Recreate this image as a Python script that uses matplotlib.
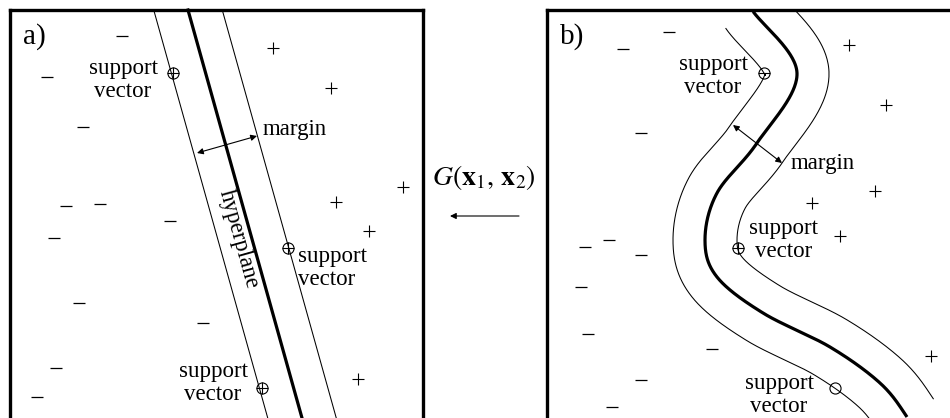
import numpy as np
import matplotlib
matplotlib.use("Agg")
import matplotlib.pyplot as plt

plt.rcParams['font.family'] = ['Liberation Serif', 'DejaVu Serif']
plt.rcParams['mathtext.fontset'] = 'stix'

# ---------------- data (pixel space of the drawing) ----------------
# panel a: straight hyperplane, given as (x at top, x at bottom)
a_hyper_top = [188, 302]
a_margin_px = 33
a_minus_x = [122, 47, 83, 66, 100, 170, 54, 79, 203, 56, 37]
a_minus_y = [36, 77, 127, 206, 204, 221, 238, 303, 323, 368, 397]
a_plus_x = [273, 331, 403, 336, 369, 358]
a_plus_y = [48, 88, 187, 202, 231, 379]
a_sv_x = [173, 288, 262]
a_sv_y = [73, 248, 388]
a_sv_sign = ['+', '+', '+']

# panel b: curved hyperplane control points
b_curve_y = [-20, 10, 73, 143, 193, 240, 277, 313, 347, 383, 417, 450]
b_curve_x = [735, 752, 797, 757, 717, 705, 717, 763, 830, 880, 907, 925]
b_margin_px = 32
b_minus_x = [669, 623, 641, 609, 585, 641, 581, 588, 712, 641, 612]
b_minus_y = [32, 49, 133, 240, 247, 255, 287, 334, 349, 380, 407]
b_plus_x = [849, 886, 875, 812, 840, 931]
b_plus_y = [45, 105, 191, 203, 236, 356]
b_sv_sign = ['-', '+', '']

W, H = 950, 418
fig = plt.figure(figsize=(9.5, 4.18), dpi=100)
ax = fig.add_axes([0, 0, 1, 1])
ax.set_xlim(0, W)
ax.set_ylim(H, 0)
ax.axis('off')

FS = 16.5
LS = 1.1
lw_thick = 2.3
lw_thin = 0.75
ms = 7

def catmull(xs, ys, n=40):
    xs = np.asarray(xs, float); ys = np.asarray(ys, float)
    out_x, out_y = [], []
    for i in range(1, len(xs) - 2):
        p0, p1, p2, p3 = [np.array([xs[j], ys[j]]) for j in (i - 1, i, i + 1, i + 2)]
        t = np.linspace(0, 1, n, endpoint=False)[:, None]
        pts = 0.5 * ((2 * p1) + (-p0 + p2) * t + (2 * p0 - 5 * p1 + 4 * p2 - p3) * t ** 2
                     + (-p0 + 3 * p1 - 3 * p2 + p3) * t ** 3)
        out_x.append(pts[:, 0]); out_y.append(pts[:, 1])
    out_x.append([xs[-2]]); out_y.append([ys[-2]])
    return np.concatenate(out_x), np.concatenate(out_y)

def offset(x, y, d):
    # positive d -> shift to the right (larger x) of a downward running curve
    dx = np.gradient(x); dy = np.gradient(y)
    L = np.hypot(dx, dy)
    nx, ny = dy / L, -dx / L
    return x + d * nx, y + d * ny

def clip_panel(x, y, x0, x1, y0=11, y1=H + 5):
    m = (y >= y0) & (y <= y1) & (x >= x0) & (x <= x1)
    return np.where(m, x, np.nan), np.where(m, y, np.nan)

def draw_points(mx, my, px, py):
    ax.plot(mx, my, ls='none', marker='_', ms=ms + 1, mew=0.9, color='black')
    ax.plot(px, py, ls='none', marker='+', ms=ms + 1, mew=0.8, color='black')

def draw_sv(xs, ys, signs):
    ax.plot(xs, ys, ls='none', marker='o', ms=8, mfc='none', mec='black', mew=0.8, zorder=5)
    for x, y, s in zip(xs, ys, signs):
        if s:
            ax.plot([x], [y], ls='none', marker='+' if s == '+' else '_', ms=8, mew=0.8,
                    color='black', zorder=6)

def frame(x0, x1, right=True):
    ax.plot([x0, x0], [H + 5, 10], color='black', lw=2.4, solid_capstyle='projecting')
    ax.plot([x0, x1], [10, 10], color='black', lw=2.4, solid_capstyle='projecting')
    if right:
        ax.plot([x1, x1], [10, H + 5], color='black', lw=2.4, solid_capstyle='projecting')

# ---------------- panel a ----------------
frame(10, 423)
yy = np.array([10.0, H + 5])
slope = (a_hyper_top[1] - a_hyper_top[0]) / (418 - 10)
xc = a_hyper_top[0] + slope * (yy - 10)
ang = np.arctan(slope)
dxh = a_margin_px / np.cos(ang)
ax.plot(xc, yy, color='black', lw=lw_thick)
ax.plot(xc - dxh, yy, color='black', lw=lw_thin)
ax.plot(xc + dxh, yy, color='black', lw=lw_thin)
draw_points(a_minus_x, a_minus_y, a_plus_x, a_plus_y)
draw_sv(a_sv_x, a_sv_y, a_sv_sign)

ax.text(23, 37, 'a)', fontsize=21, ha='left', va='center')
ax.text(123, 80, 'support\nvector', fontsize=FS, ha='center', va='center', linespacing=LS)
ax.text(298, 268, 'support\nvector', fontsize=FS, ha='left', va='center', linespacing=LS)
ax.text(213, 383, 'support\nvector', fontsize=FS, ha='center', va='center', linespacing=LS)
ax.text(263, 129, 'margin', fontsize=FS, ha='left', va='center')
ax.annotate('', xy=(197, 153), xytext=(257, 136),
            arrowprops=dict(arrowstyle='<|-|>', color='black', lw=0.8,
                            mutation_scale=9, shrinkA=0, shrinkB=0))
ax.text(239, 239, 'hyperplane', fontsize=FS, ha='center', va='center',
        rotation=-(90 - np.degrees(ang)), rotation_mode='anchor')

# middle
ax.text(484, 178, r'$G(\mathbf{x}_1,\,\mathbf{x}_2)$', fontsize=20, ha='center', va='center')
ax.annotate('', xy=(450, 216), xytext=(519, 216),
            arrowprops=dict(arrowstyle='-|>', color='black', lw=0.8,
                            mutation_scale=9, shrinkA=0, shrinkB=0))

# ---------------- panel b ----------------
frame(547, 960, right=False)
cx, cy = catmull(b_curve_x, b_curve_y, n=60)
lx, ly = offset(cx, cy, -b_margin_px)
rx, ry = offset(cx, cy, b_margin_px)
for X, Y, lw in ((cx, cy, lw_thick), (lx, ly, lw_thin), (rx, ry, lw_thin)):
    X2, Y2 = clip_panel(X, Y, 548, 960)
    ax.plot(X2, Y2, color='black', lw=lw, solid_capstyle='butt')

def nearest(X, Y, y0):
    i = np.nanargmin(np.abs(Y - y0))
    return X[i], Y[i]
sv_pts = [nearest(lx, ly, 73), nearest(rx, ry, 248), nearest(lx, ly, 388)]
draw_sv([p[0] for p in sv_pts], [p[1] for p in sv_pts], b_sv_sign)
draw_points(b_minus_x, b_minus_y, b_plus_x, b_plus_y)

ax.text(560, 37, 'b)', fontsize=21, ha='left', va='center')
ax.text(713, 76, 'support\nvector', fontsize=FS, ha='center', va='center', linespacing=LS)
ax.text(784, 240, 'support\nvector', fontsize=FS, ha='center', va='center', linespacing=LS)
ax.text(779, 395, 'support\nvector', fontsize=FS, ha='center', va='center', linespacing=LS)
ax.text(791, 164, 'margin', fontsize=FS, ha='left', va='center')
ax.annotate('', xy=(733, 125), xytext=(782, 163),
            arrowprops=dict(arrowstyle='<|-|>', color='black', lw=0.8,
                            mutation_scale=9, shrinkA=0, shrinkB=0))

fig.savefig('out.png', dpi=100, facecolor='white')
